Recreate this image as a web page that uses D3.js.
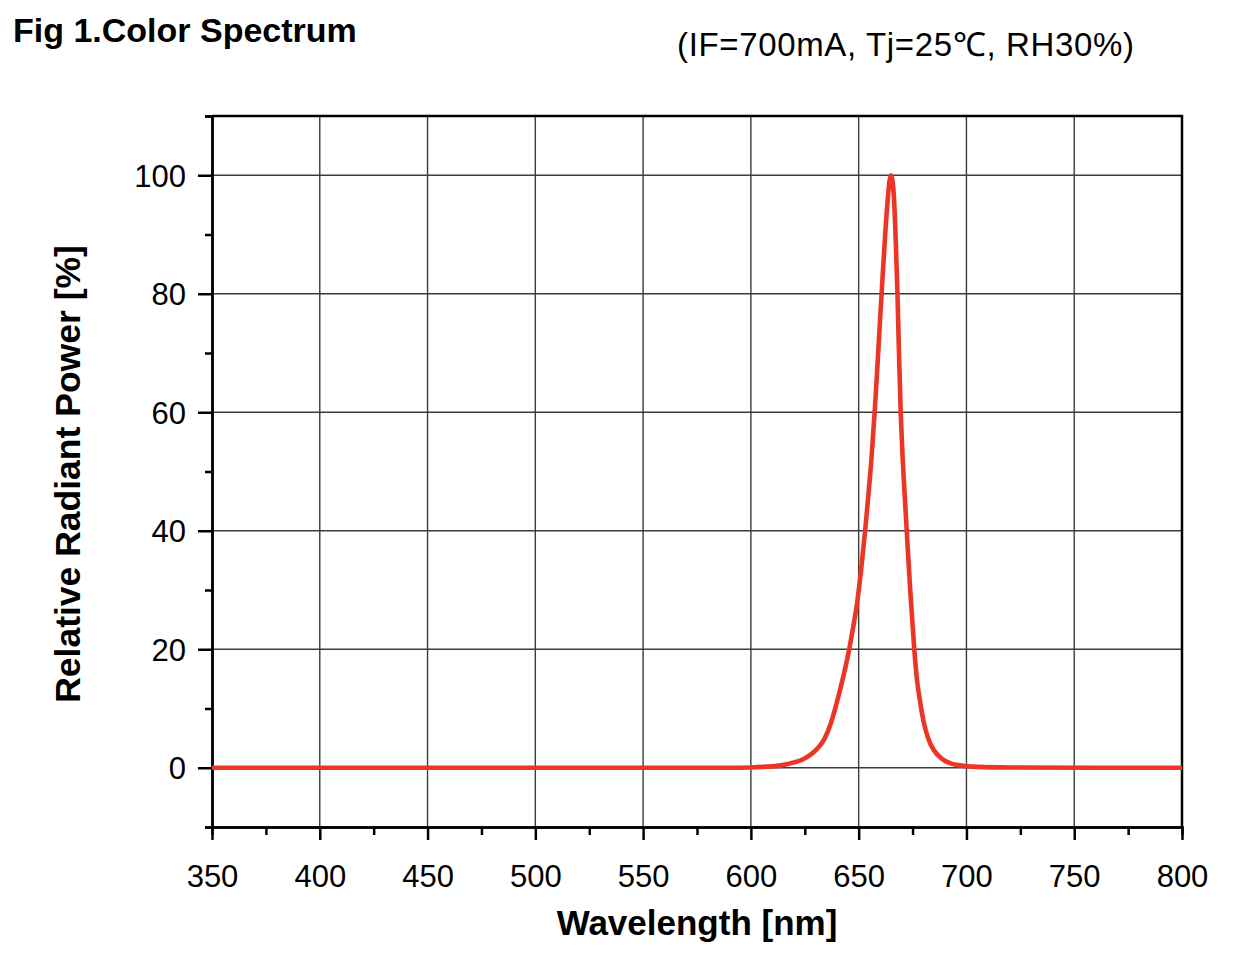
<!DOCTYPE html>
<html>
<head>
<meta charset="utf-8">
<script src="https://cdn.jsdelivr.net/npm/d3@7"></script>
<style>
  body { margin: 0; background: #fff; }
  svg { display: block; font-family: "Liberation Sans", Arial, Helvetica, sans-serif; }
</style>
</head>
<body>
<svg id="chart" width="1234" height="962"></svg>
<script>
// spectrum
const wavelength = [350, 400, 450, 500, 550, 590, 600, 606, 614, 620, 624, 628, 631, 634, 637, 640, 643, 645.5, 647.5, 649.5, 651.3, 653, 654.5, 655.9, 657.6, 659.2, 660.8, 662.3, 663.5, 664.4, 665, 665.6, 666.4, 667.2, 668, 668.7, 669.5, 670.3, 671.2, 672.3, 674, 675.8, 677, 678.4, 680, 682.3, 685, 689, 693, 697, 705, 720, 760, 800]
const power = [0, 0, 0, 0, 0, 0, 0.05, 0.15, 0.4, 0.9, 1.4, 2.3, 3.3, 4.8, 7.4, 11.2, 15.6, 19.8, 23.8, 28.4, 34, 40, 46, 52, 61, 71, 81, 90, 96, 99.2, 100, 99.3, 96, 89, 80, 70, 60, 53, 47, 40, 29.5, 20, 15, 11.4, 8, 4.9, 2.9, 1.4, 0.7, 0.4, 0.15, 0.05, 0, 0]

const xMajor = [350, 400, 450, 500, 550, 600, 650, 700, 750, 800]
const xMinor = [375, 425, 475, 525, 575, 625, 675, 725, 775]
const yMajor = [0, 20, 40, 60, 80, 100]
const yMinor = [-10, 10, 30, 50, 70, 90, 110]

const title = "Fig 1.Color Spectrum"
const condition = "(IF=700mA, Tj=25\u2103, RH30%)"
const xLabel = "Wavelength [nm]"
const yLabel = "Relative Radiant Power [%]"

const svg = d3.select("#chart")

const plotLeft = 212, plotRight = 1182, plotTop = 116, plotBottom = 827

const x = d3.scaleLinear().domain([350, 800]).range([plotLeft, plotRight])
const y = d3.scaleLinear().domain([-10, 110]).range([plotBottom, plotTop])

// grid
const grid = svg.append("g").attr("stroke", "#3c3c3c").attr("stroke-width", 1.4)
grid.selectAll("line.gx")
  .data(xMajor.slice(1, -1))
  .join("line")
    .attr("class", "gx")
    .attr("x1", d => x(d)).attr("x2", d => x(d))
    .attr("y1", plotTop).attr("y2", plotBottom)
grid.selectAll("line.gy")
  .data(yMajor)
  .join("line")
    .attr("class", "gy")
    .attr("x1", plotLeft).attr("x2", plotRight)
    .attr("y1", d => y(d)).attr("y2", d => y(d))

// frame: top and right
svg.append("path")
  .attr("d", `M${plotLeft},${plotTop}H${plotRight}V${plotBottom}`)
  .attr("fill", "none")
  .attr("stroke", "#000")
  .attr("stroke-width", 2.5)

function styleAxis(g) {
  g.selectAll(".domain").attr("stroke-width", 2.5)
  g.selectAll(".tick line").attr("stroke-width", 2.5)
}

// minor ticks
svg.append("g")
  .attr("transform", `translate(0,${plotBottom})`)
  .call(d3.axisBottom(x).tickValues(xMinor).tickSize(8).tickFormat(""))
  .call(styleAxis)
svg.append("g")
  .attr("transform", `translate(${plotLeft},0)`)
  .call(d3.axisLeft(y).tickValues(yMinor).tickSize(7).tickFormat(""))
  .call(styleAxis)

// major ticks
const xAxis = svg.append("g")
  .attr("transform", `translate(0,${plotBottom})`)
  .call(d3.axisBottom(x).tickValues(xMajor).tickSize(13).tickPadding(0).tickSizeOuter(0))
  .call(styleAxis)
xAxis.selectAll("text")
  .attr("font-size", 31)
  .attr("fill", "#000")
  .attr("dy", null)
  .attr("y", 60)

const yAxis = svg.append("g")
  .attr("transform", `translate(${plotLeft},0)`)
  .call(d3.axisLeft(y).tickValues(yMajor).tickSize(14).tickPadding(12).tickSizeOuter(0))
  .call(styleAxis)
yAxis.selectAll("text")
  .attr("font-size", 31)
  .attr("fill", "#000")
  .attr("dy", "0.36em")

svg.selectAll("g").attr("font-family", null)

// spectrum
const line = d3.line()
  .x((d, i) => x(wavelength[i]))
  .y(d => y(d))
  .curve(d3.curveMonotoneX)

svg.append("path")
  .datum(power)
  .attr("d", line)
  .attr("fill", "none")
  .attr("stroke", "#ec3524")
  .attr("stroke-width", 4.6)
  .attr("stroke-linejoin", "round")

// labels
svg.append("text")
  .attr("x", 13).attr("y", 42)
  .attr("font-size", 34).attr("font-weight", "bold")
  .text(title)

svg.append("text")
  .attr("x", 677).attr("y", 56)
  .attr("font-size", 33)
  .attr("letter-spacing", 0.65)
  .text(condition)

svg.append("text")
  .attr("x", (plotLeft + plotRight) / 2).attr("y", 935)
  .attr("text-anchor", "middle")
  .attr("font-size", 35).attr("font-weight", "bold")
  .text(xLabel)

svg.append("text")
  .attr("transform", "translate(80,474) rotate(-90)")
  .attr("text-anchor", "middle")
  .attr("font-size", 35.5).attr("font-weight", "bold")
  .text(yLabel)
</script>
</body>
</html>
